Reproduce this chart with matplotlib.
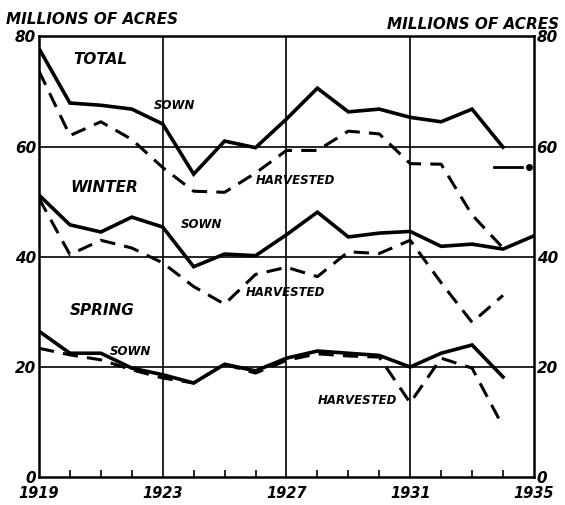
import numpy as np
import matplotlib.pyplot as plt

years = np.arange(1919, 1935)
years_w = np.arange(1919, 1936)

total_sown = [77.8, 67.9, 67.5, 66.8, 64.1, 55.0, 61.0, 59.8, 65.0, 70.6, 66.3, 66.8, 65.3, 64.5, 66.8, 59.9]
total_harv = [73.7, 62.0, 64.5, 61.3, 56.2, 51.9, 51.7, 55.2, 59.3, 59.3, 62.8, 62.3, 56.9, 56.8, 47.6, 41.6]
winter_sown = [51.2, 45.8, 44.5, 47.2, 45.4, 38.2, 40.5, 40.2, 44.0, 48.1, 43.6, 44.3, 44.6, 41.9, 42.3, 41.4, 43.8]
winter_harv = [50.6, 40.4, 43.0, 41.6, 38.9, 34.6, 31.4, 36.8, 38.1, 36.4, 40.9, 40.6, 43.0, 35.3, 28.1, 33.0]
spring_sown = [26.5, 22.5, 22.5, 19.8, 18.6, 17.1, 20.5, 19.3, 21.6, 22.9, 22.5, 22.1, 20.0, 22.5, 24.0, 18.2]
spring_harv = [23.4, 22.2, 21.3, 19.5, 18.0, 17.1, 20.5, 18.9, 21.2, 22.4, 22.0, 21.8, 13.5, 21.6, 19.8, 9.2]

# 1935 indication (short line ending in a dot)
arrow_x = [1933.7, 1934.6]
arrow_y = [56.3, 56.3]
dot_x = 1934.85

xticks = [1919, 1923, 1927, 1931, 1935]
yticks = [0, 20, 40, 60, 80]

font = dict(fontweight='bold', fontstyle='italic', family='DejaVu Sans')

fig = plt.figure(figsize=(5.65, 5.05), dpi=100)
ax = fig.add_axes([0.069, 0.055, 0.876, 0.873])

lw_s = 2.6
lw_d = 2.2
dash = (0, (5, 3))
for s, h, yr in [(total_sown, total_harv, years), (winter_sown, winter_harv, years_w),
                 (spring_sown, spring_harv, years)]:
    ax.plot(yr[:len(s)], s, color='black', lw=lw_s, solid_joinstyle='miter')
    ax.plot(years[:len(h)], h, color='black', lw=lw_d, linestyle=dash)

ax.plot(arrow_x, arrow_y, color='black', lw=2)
ax.plot(dot_x, arrow_y[-1], 'o', color='black', ms=4)

ax.set_xlim(1919, 1935)
ax.set_ylim(0, 80)
for v in [20, 40, 60]:
    ax.axhline(v, color='black', lw=1.2)
for v in [1923, 1927, 1931]:
    ax.axvline(v, color='black', lw=1.2)
for sp in ax.spines.values():
    sp.set_linewidth(1.8)

ax.set_xticks(xticks)
ax.set_xticklabels([str(x) for x in xticks], fontsize=10.5, **font)
ax.set_xticks(np.arange(1919, 1936), minor=True)
ax.tick_params(axis='x', which='major', length=0, pad=6)
ax.tick_params(axis='x', which='minor', direction='in', length=5, width=1.2)
ax.set_yticks(yticks)
ax.set_yticklabels([str(y) for y in yticks], fontsize=11, **font)
ax.tick_params(axis='y', which='both', length=0, pad=2, labelright=True)

fig.text(0.01, 0.962, 'MILLIONS OF ACRES', fontsize=11, ha='left', va='center', **font)
fig.text(0.99, 0.952, 'MILLIONS OF ACRES', fontsize=11, ha='right', va='center', **font)

labels = [
    ('TOTAL', 1920.1, 75.8, 11),
    ('SOWN', 1922.7, 67.5, 8.5),
    ('HARVESTED', 1926.0, 53.8, 8.5),
    ('WINTER', 1920.0, 52.5, 11),
    ('SOWN', 1923.6, 45.8, 8.5),
    ('HARVESTED', 1925.7, 33.5, 8.5),
    ('SPRING', 1920.0, 30.2, 11),
    ('SOWN', 1921.3, 22.8, 8.5),
    ('HARVESTED', 1928.0, 14.0, 8.5),
]
for t, x, y, fs in labels:
    ax.text(x, y, t, fontsize=fs, ha='left', va='center', **font)

fig.savefig('out.png', dpi=100)
